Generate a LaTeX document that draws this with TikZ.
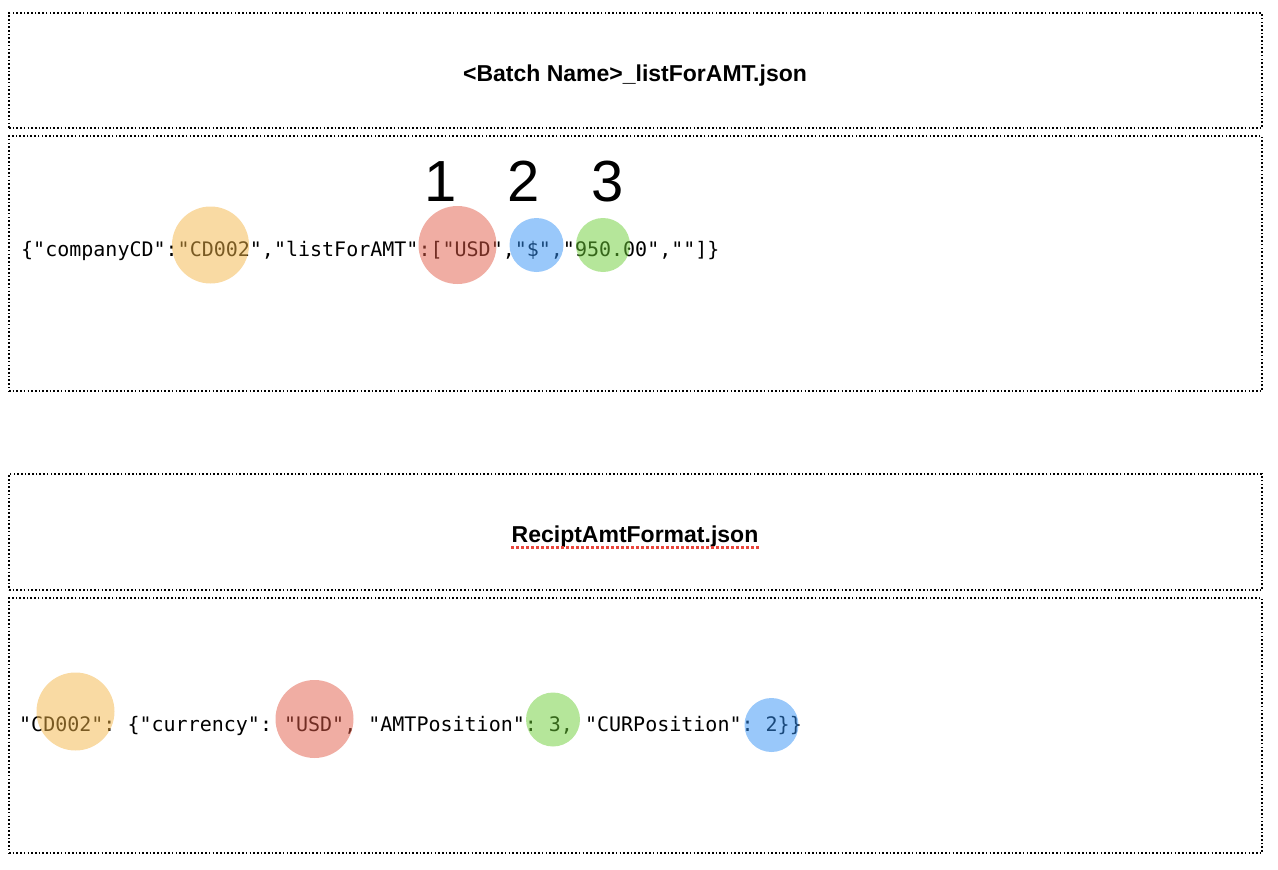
\documentclass[tikz,border=0pt]{standalone}
\usepackage{fontspec}
\setmainfont{Liberation Sans}
\newfontfamily\monof{DejaVu Sans Mono}
\definecolor{corange}{RGB}{243,181,71}
\definecolor{cred}{RGB}{225,91,71}
\definecolor{cblue}{RGB}{51,145,245}
\definecolor{cgreen}{RGB}{107,205,53}
\definecolor{spellred}{RGB}{235,70,60}
\begin{document}
\frenchspacing
\begin{tikzpicture}[x=1pt,y=-1pt,
  frame/.style={draw=black, line width=1.6pt, dash pattern=on 1.6pt off 2.1pt, inner sep=0pt},
  titletext/.style={font=\fontsize{23}{28}\selectfont\bfseries, inner sep=0pt, anchor=base},
  codetext/.style={font=\monof\fontsize{20}{24}\selectfont, inner sep=0pt, anchor=base west},
  blob/.style={circle, fill opacity=0.5, inner sep=0pt},
  numtext/.style={font=\fontsize{58}{64}\selectfont, inner sep=0pt, anchor=base}]
\useasboundingbox (0,0) rectangle (1278,870);
% frames
\node[frame, minimum width=1253pt, minimum height=115pt] (box1) at (635.5,70.5) {};
\node[frame, minimum width=1253pt, minimum height=255pt] (box2) at (635.5,263.5) {};
\node[frame, minimum width=1253pt, minimum height=116pt] (box3) at (635.5,532) {};
\node[frame, minimum width=1253pt, minimum height=255pt] (box4) at (635.5,725.5) {};
% titles
\node[titletext] (t1) at (635,81) {<Batch Name>\_listForAMT.json};
\node[titletext] (t2) at (635,542.5) {ReciptAmtFormat.json};
\draw[spellred, line width=2.2pt, dash pattern=on 3pt off 2pt]
  ([yshift=-5pt]t2.base west) -- ([yshift=-5pt]t2.base east);
% code lines
\node[codetext] (l1) at (21,256) {\{"companyCD":"CD002","listForAMT":["USD","\$","950.00",""]\}};
\node[codetext] (l2) at (19,731) {"CD002": \{"currency": "USD", "AMTPosition": 3, "CURPosition": 2\}\}};
% numbers
\node[numtext] (n1) at (441,201) {1};
\node[numtext] (n2) at (524,201) {2};
\node[numtext] (n3) at (607.5,201) {3};
% highlight circles line 1
\node[blob, fill=corange, minimum size=77pt] (c1a) at (210.5,245) {};
\node[blob, fill=cred, minimum size=78pt] (c1b) at (457.5,245) {};
\node[blob, fill=cblue, minimum size=54pt] (c1c) at (536.5,245) {};
\node[blob, fill=cgreen, minimum size=54pt] (c1d) at (603,245) {};
% highlight circles line 2
\node[blob, fill=corange, minimum size=78pt] (c2a) at (75.5,711.5) {};
\node[blob, fill=cred, minimum size=78pt] (c2b) at (314.5,719) {};
\node[blob, fill=cgreen, minimum size=54pt] (c2c) at (553,719.5) {};
\node[blob, fill=cblue, minimum size=54pt] (c2d) at (771.5,725) {};
\end{tikzpicture}
\end{document}
